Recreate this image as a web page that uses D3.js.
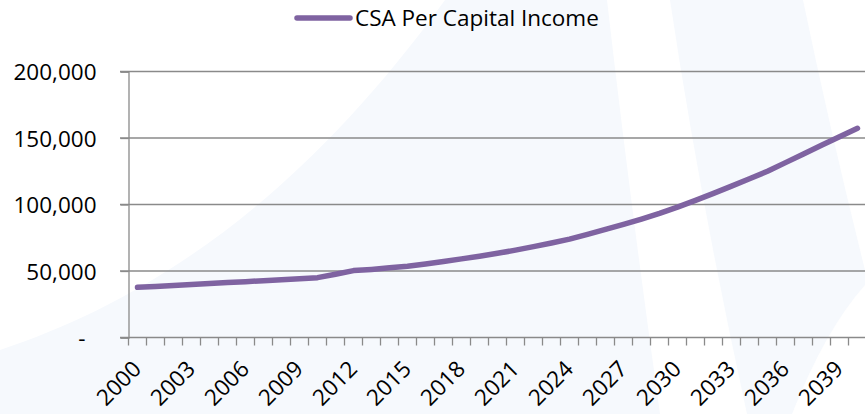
<!DOCTYPE html>
<html>
<head>
<meta charset="utf-8">
<script src="https://cdn.jsdelivr.net/npm/d3@7"></script>
<style>
  html, body { margin: 0; padding: 0; background: #ffffff; }
  svg { display: block; }
  text { font-family: "Open Sans", "Liberation Sans", sans-serif; fill: #000; }
</style>
</head>
<body>
<svg id="chart" width="865" height="414"></svg>
<script>
// Years on the category axis
const years = d3.range(2000, 2041);

// CSA per capita income, one value per year
const income = [
  37700, 38400, 39100, 39900, 40600, 41300, 42000, 42700, 43500, 44200,
  45000, 47600, 50300, 51200, 52400, 53600, 55300, 57100, 59100, 61100,
  63300, 65700, 68300, 71000, 74000, 77600, 81300, 85000, 89000, 93300,
  98000, 103100, 108400, 113800, 119400, 125000, 131500, 138000, 144500, 151000,
  157300
];

// Axis labels
const yTicks = [0, 50000, 100000, 150000, 200000];
const xLabelYears = d3.range(2000, 2041, 3);
const seriesName = "CSA Per Capital Income";

const W = 865, H = 414;
const svg = d3.select("#chart");

// faint watermark behind the plot
const bg = svg.append("g");
bg.append("rect").attr("width", W).attr("height", H).attr("fill", "#f6f9fd");
bg.append("path")
  .attr("d", "M0,0 L445,0 C300,200 150,300 0,350 Z")
  .attr("fill", "#ffffff");
bg.append("path")
  .attr("d", "M607,0 L670,0 Q700,200 747,414 L660,414 Q630,200 607,0 Z")
  .attr("fill", "#ffffff");
bg.append("path")
  .attr("d", "M803,0 L865,0 L865,270 Q830,130 803,0 Z")
  .attr("fill", "#ffffff");
bg.append("path")
  .attr("d", "M792,414 Q825,330 865,285 L865,414 Z")
  .attr("fill", "#ffffff");

const x = d3.scaleBand()
  .domain(years)
  .range([128.5, 128.5 + 18 * years.length])
  .paddingInner(0).paddingOuter(0);

const y = d3.scaleLinear()
  .domain([0, 200000])
  .range([337.5, 71.5]);

const gridColor = "#8a8a8a";

// horizontal gridlines
svg.append("g")
  .selectAll("line")
  .data(yTicks.filter(d => d > 0))
  .join("line")
  .attr("x1", 120).attr("x2", W)
  .attr("y1", d => y(d)).attr("y2", d => y(d))
  .attr("stroke", gridColor).attr("stroke-width", 1.3);

// y axis
const yAxis = svg.append("g")
  .attr("transform", "translate(128.5,0)")
  .call(d3.axisLeft(y)
    .tickValues(yTicks)
    .tickSize(8)
    .tickPadding(24)
    .tickFormat(d => d === 0 ? "-" : d3.format(",")(d)));
yAxis.select(".domain").attr("stroke", gridColor).attr("stroke-width", 1.3);
yAxis.selectAll(".tick line").attr("stroke", gridColor).attr("stroke-width", 1.3);
yAxis.selectAll(".tick text")
  .attr("font-size", 22.5)
  .attr("font-family", "Open Sans, sans-serif")
  .attr("dy", "0.36em")
  .attr("dx", d => d === 0 ? -11 : 0);

// x axis with a tick at every band boundary
const xAxisY = y(0);
const xg = svg.append("g");
xg.append("line")
  .attr("x1", 120).attr("x2", x.range()[1])
  .attr("y1", xAxisY).attr("y2", xAxisY)
  .attr("stroke", gridColor).attr("stroke-width", 1.3);
xg.selectAll("line.tk")
  .data(years)
  .join("line")
  .attr("class", "tk")
  .attr("x1", d => x(d)).attr("x2", d => x(d))
  .attr("y1", xAxisY).attr("y2", xAxisY + 8)
  .attr("stroke", gridColor).attr("stroke-width", 1.3);

xg.selectAll("text")
  .data(xLabelYears)
  .join("text")
  .attr("text-anchor", "end")
  .attr("font-size", 22.5)
  .attr("transform", d => `translate(${x(d) + x.bandwidth() / 2 + 5},${xAxisY + 33}) rotate(-45)`)
  .text(d => d);

// series line
const lineColor = "#7f63a1";
const line = d3.line()
  .x((d, i) => x(years[i]) + x.bandwidth() / 2)
  .y(d => y(d));

svg.append("path")
  .datum(income)
  .attr("d", line)
  .attr("fill", "none")
  .attr("stroke", lineColor)
  .attr("stroke-width", 5.5)
  .attr("stroke-linecap", "round")
  .attr("stroke-linejoin", "round");

// legend
const lg = svg.append("g");
lg.append("line")
  .attr("x1", 297).attr("x2", 350)
  .attr("y1", 18).attr("y2", 18)
  .attr("stroke", lineColor).attr("stroke-width", 5.5)
  .attr("stroke-linecap", "round");
lg.append("text")
  .attr("x", 355).attr("y", 26)
  .attr("font-size", 22.5)
  .text(seriesName);
</script>
</body>
</html>
